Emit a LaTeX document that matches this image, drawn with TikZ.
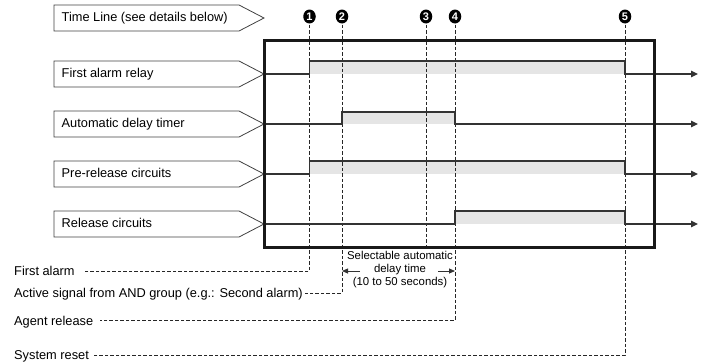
\documentclass[tikz,border=0pt]{standalone}
\usepackage{fontspec}
\setmainfont{Liberation Sans}
\usetikzlibrary{arrows.meta,calc,shapes.geometric}

\tikzset{
  labelbox/.style={draw=black!75, line width=0.8pt},
  boxtext/.style={anchor=west, inner sep=0pt, text height=9.2pt, text depth=0pt},
  signal/.style={draw=black!80, line width=1.3pt},
  sigarrow/.style={signal, -{Triangle[length=7pt,width=6.5pt]}},
  active/.style={fill=black!10},
  frame/.style={draw=black!90, line width=3pt},
  tickmark/.style={ellipse, fill=black, text=white, inner sep=0pt, minimum width=12.5pt, minimum height=14pt, font=\fontsize{11}{10}\selectfont\bfseries},
  tickline/.style={draw=black!85, line width=0.7pt, dash pattern=on 3.5pt off 2pt},
  event/.style={anchor=west, inner sep=0pt, text height=9.2pt, text depth=0pt},
  delayarrow/.style={draw=black!80, line width=0.8pt, -{Triangle[length=6pt,width=5pt]}}
}

\begin{document}
\begin{tikzpicture}[x=1pt, y=-1pt, font=\fontsize{12.8}{15}\selectfont]
        \useasboundingbox (0,0) rectangle (704,364);
        \coordinate (fnw) at (264,40);
        \coordinate (fse) at (654,247);
        \coordinate (tend) at (698,0);

        % Label boxes.
        \foreach \c/\txt/\name in {18/{Time Line (see details below)}/tl,
                                   74/{First alarm relay}/far,
                                   124/{Automatic delay timer}/adt,
                                   174/{Pre-release circuits}/prc,
                                   224/{Release circuits}/rc}{
          \draw[labelbox] (54,{\c-13}) -- (239,{\c-13}) -- (264,\c) -- (239,{\c+13}) -- (54,{\c+13}) -- cycle;
          \node[boxtext] (\name) at (61.5,{\c-1.5}) {\txt};
          \coordinate (\name-in) at (264,\c);
        }

        % Time line marks.
        \node[tickmark] (n1) at (309.5,16.5) {1};
        \node[tickmark] (n2) at (342,16.5) {2};
        \node[tickmark] (n3) at (426,16.5) {3};
        \node[tickmark] (n4) at (455,16.5) {4};
        \node[tickmark] (n5) at (625,16.5) {5};

        % Events.
        \node[event] (fa) at (14,271) {First alarm};
        \node[event] (asg) at (14,293) {Active signal from AND group (e.g.: Second alarm)};
        \node[event] (ar) at (14,320.5) {Agent release};
        \node[event] (sr) at (14,355) {System reset};

        % Active states.
        \fill[active] ($(n1 |- far-in)+(0,-13)$) rectangle (n5 |- far-in);
        \fill[active] ($(n2 |- adt-in)+(0,-12)$) rectangle (n4 |- adt-in);
        \fill[active] ($(n1 |- prc-in)+(0,-13)$) rectangle (n5 |- prc-in);
        \fill[active] ($(n4 |- rc-in)+(0,-13)$) rectangle (n5 |- rc-in);

        % Dashed marks.
        \draw[tickline, shorten <=1pt] (n1.south) |- ([xshift=8pt]fa.east);
        \draw[tickline, shorten <=1pt] (n2.south) |- ([xshift=2pt]asg.east);
        \draw[tickline, shorten <=1pt] (n3.south) -- (n3 |- fse);
        \draw[tickline, shorten <=1pt] (n4.south) |- ([xshift=7pt]ar.east);
        \draw[tickline, shorten <=1pt] (n5.south) |- ([xshift=4pt]sr.east);

        % Signals.
        \draw[sigarrow] (far-in) -- (n1 |- far-in) -- ++(0,-13) -| (n5 |- far-in) -- (tend |- far-in);
        \draw[sigarrow] (adt-in) -- (n2 |- adt-in) -- ++(0,-12) -| (n4 |- adt-in) -- (tend |- adt-in);
        \draw[sigarrow] (prc-in) -- (n1 |- prc-in) -- ++(0,-13) -| (n5 |- prc-in) -- (tend |- prc-in);
        \draw[sigarrow] (rc-in) -- (n4 |- rc-in) -- ++(0,-13) -| (n5 |- rc-in) -- (tend |- rc-in);

        \draw[frame] (fnw) rectangle (fse);

        % Delay time.
        \node[font=\fontsize{11.4}{13}\selectfont, align=center, inner sep=0pt] (delay) at (400,270) {Selectable automatic\\delay time\\(10 to 50 seconds)};
        \coordinate (dl) at (360,271);
        \coordinate (dr) at (438,271);
        \draw[delayarrow] (dl) -- (dl -| n2);
        \draw[delayarrow] (dr) -- (dr -| n4);
\end{tikzpicture}
\end{document}
